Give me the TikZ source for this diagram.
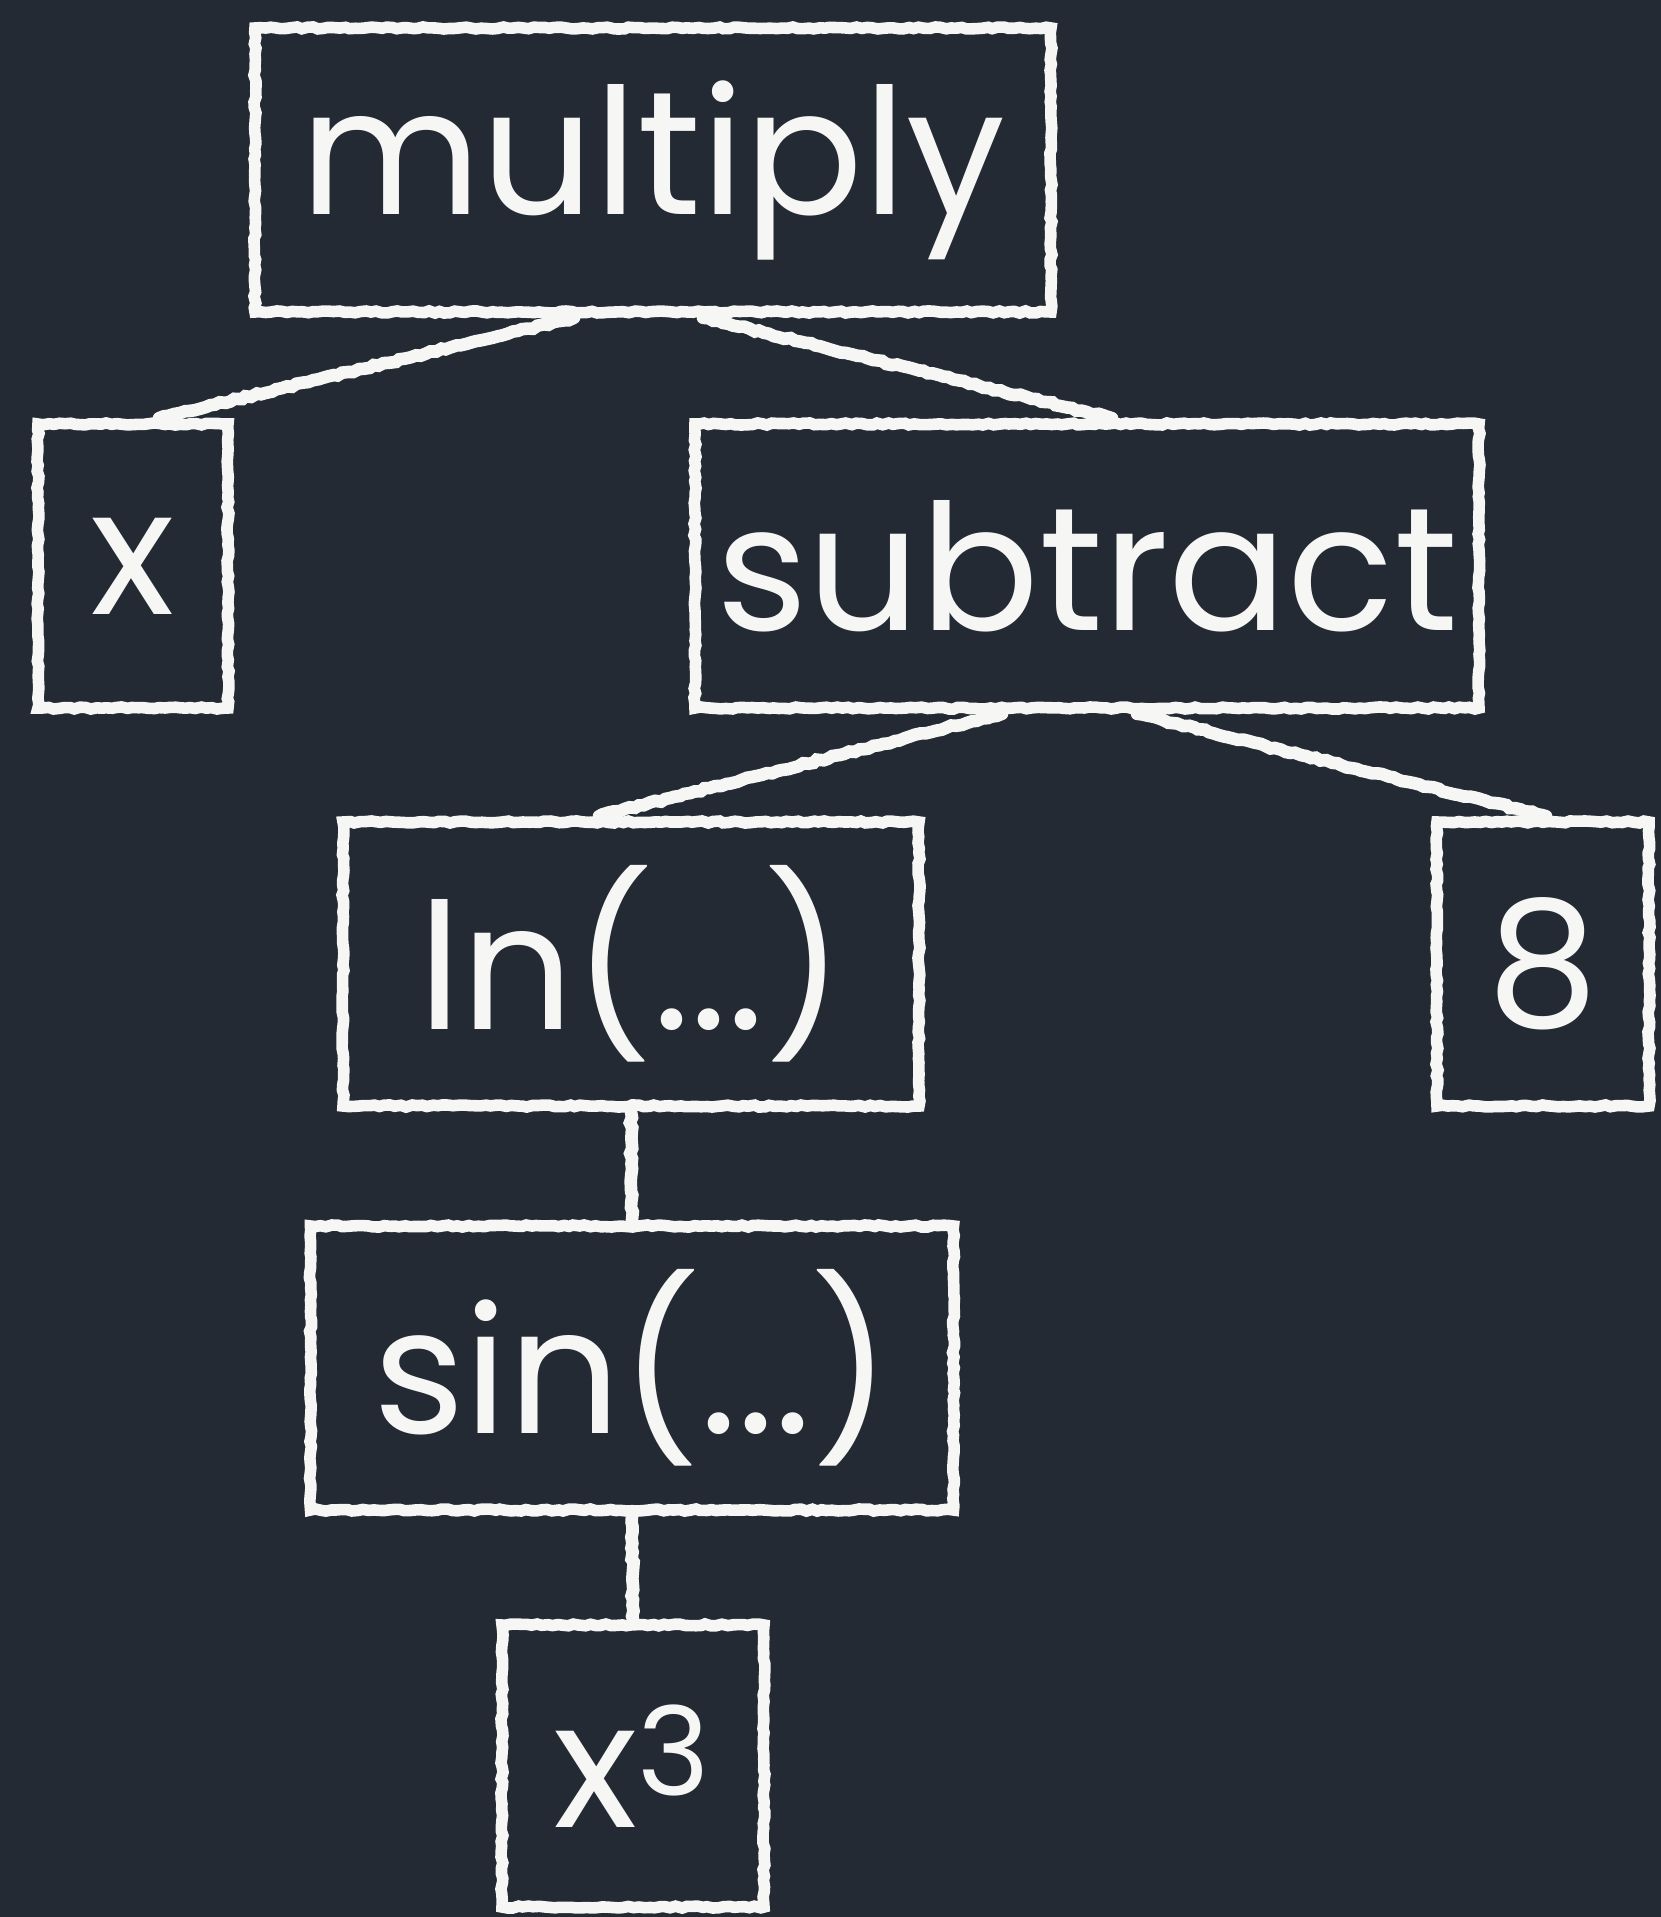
\documentclass[tikz,border=0pt]{standalone}
\usepackage{fontspec}
\setmainfont{Poppins}
\usepackage{tikz}
\usetikzlibrary{decorations.pathmorphing}
\usepackage{xcolor}
\definecolor{ColBoard}{RGB}{36,42,51}
\definecolor{ColChalk}{RGB}{246,246,244}
\tikzstyle{ChalkBox}=[rectangle,draw=ColChalk,line width=3.3pt,text=ColChalk,
minimum height=28.4mm,inner sep=0pt,font=\fontsize{50}{60}\selectfont,
decorate,decoration={random steps,segment length=1.5pt,amplitude=.3pt}]
\tikzstyle{ChalkLine}=[ColChalk,line width=3.6pt,line cap=round,
decorate,decoration={random steps,segment length=1.5pt,amplitude=.35pt}]
\begin{document}
\pgfmathsetseed{7}
\begin{tikzpicture}
        \fill[ColBoard](0,0)rectangle(16.61,-19.17);
        \useasboundingbox(0,0)rectangle(16.61,-19.17);
        \node[ChalkBox,minimum width=79.6mm](mul)at(6.53,-1.70){multiply};
        \node[ChalkBox,minimum width=19mm](xa)at(1.33,-5.66){x};
        \node[ChalkBox,minimum width=78.4mm](sub)at(10.87,-5.66){subtract};
        \node[ChalkBox,minimum width=57.6mm](ln)at(6.31,-9.64){ln(...)};
        \node[ChalkBox,minimum width=21.2mm](eight)at(15.43,-9.64){8};
        \node[ChalkBox,minimum width=64.3mm](sin)at(6.32,-13.68){sin(...)};
        \node[ChalkBox,minimum width=26.2mm,minimum height=28.2mm](cube)at(6.33,-17.66){x\textsuperscript{3}};
        \draw[ChalkLine]([xshift=-7.9mm]mul.south)--([xshift=2.6mm]xa.north);
        \draw[ChalkLine]([xshift=5mm]mul.south)--([xshift=2.5mm]sub.north);
        \draw[ChalkLine]([xshift=-8.5mm]sub.south)--([xshift=-3.2mm]ln.north);
        \draw[ChalkLine]([xshift=5mm]sub.south)--([xshift=.3mm]eight.north);
        \draw[ChalkLine](ln.south)--(sin.north);
        \draw[ChalkLine](sin.south)--(cube.north);
    \end{tikzpicture}
\end{document}
